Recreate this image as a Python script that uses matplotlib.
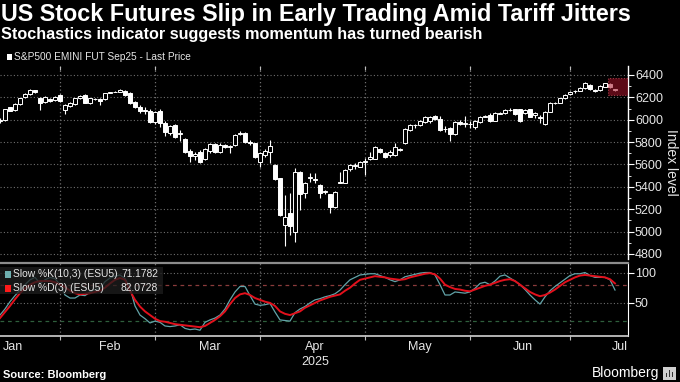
import matplotlib
matplotlib.use('Agg')
import matplotlib.pyplot as plt
from matplotlib.patches import Rectangle
from matplotlib.ticker import FixedLocator, MultipleLocator
import numpy as np
import pandas as pd

plt.rcParams['font.family'] = ['Liberation Sans', 'DejaVu Sans']

# ---------------- data ----------------
title = "US Stock Futures Slip in Early Trading Amid Tariff Jitters"
subtitle = "Stochastics indicator suggests momentum has turned bearish"
series_label = "S&P500 EMINI FUT Sep25 - Last Price"
k_label = "Slow %K(10,3) (ESU5)"
d_label = "Slow %D(3) (ESU5)"
k_last = "71.1782"
d_last = "82.0728"
month_labels = ["Jan", "Feb", "Mar", "Apr", "May", "Jun", "Jul"]
year_label = "2025"
price_ticks = [4800, 5000, 5200, 5400, 5600, 5800, 6000, 6200, 6400]
stoch_ticks = [50, 100]
holidays = ['2025-01-20', '2025-02-17', '2025-04-18', '2025-05-26', '2025-06-19', '2025-07-04']
start_date, end_date = '2025-01-14', '2025-07-14'

opens = [5990, 5998, 6111, 6087, 6141, 6200, 6227, 6262, 6192, 6161, 6186, 6177, 6221,
         6087, 6123, 6141, 6192, 6221, 6147, 6185, 6186, 6183, 6240, 6248, 6251, 6257, 6242, 6161,
         6117, 6087, 6081, 5983,
         6081, 5974, 5880, 5953, 5870, 5825, 5721, 5680, 5714, 5647, 5720, 5780, 5714, 5770,
         5755, 5774, 5875, 5884, 5804, 5790, 5625,
         5685, 5714, 5595, 5476, 5059, 5164, 5000, 5536, 5342, 5480, 5470, 5417, 5352, 5336,
         5217, 5446, 5438, 5557, 5585, 5580, 5625,
         5645, 5649, 5738, 5703, 5685, 5685, 5735, 5792, 5908, 5950, 5953, 5980, 5985, 6036,
         6007, 5915, 5926, 5870, 5983, 5965, 5962,
         5938, 5983, 6025, 6042, 5989, 6055, 6060, 6090, 6096, 6096, 6060, 6093, 6045, 6027,
         5962, 6072, 6145, 6150, 6194, 6230,
         6255, 6260, 6281, 6311, 6262, 6266, 6296, 6320, 6272]
highs = [6015, 6100, 6115, 6145, 6195, 6235, 6270, 6268, 6200, 6212, 6195, 6215, 6230,
         6140, 6160, 6195, 6218, 6228, 6198, 6192, 6192, 6240, 6250, 6258, 6270, 6262, 6248, 6170,
         6130, 6115, 6095, 6080,
         6095, 5990, 5955, 5960, 5905, 5835, 5740, 5714, 5725, 5745, 5790, 5790, 5795, 5785,
         5770, 5870, 5895, 5890, 5815, 5795, 5710,
         5735, 5819, 5600, 5480, 5327, 5345, 5568, 5545, 5440, 5527, 5524, 5425, 5370, 5340,
         5362, 5536, 5555, 5600, 5610, 5630, 5658,
         5714, 5765, 5745, 5710, 5725, 5790, 5745, 5925, 5960, 5960, 5995, 6030, 6035, 6040,
         6030, 5940, 5935, 5990, 5995, 6033, 5985,
         5995, 6030, 6040, 6060, 6065, 6070, 6092, 6105, 6100, 6100, 6100, 6100, 6070, 6040,
         6078, 6155, 6160, 6198, 6228, 6258,
         6266, 6288, 6335, 6318, 6270, 6308, 6332, 6325, 6275]
lows = [5975, 5990, 6075, 6080, 6135, 6195, 6220, 6240, 6087, 6150, 6160, 6170, 6160,
        6051, 6115, 6135, 6185, 6145, 6140, 6175, 6132, 6178, 6236, 6244, 6246, 6210, 6140, 6105,
        6060, 6050, 5975, 5960,
        5938, 5855, 5860, 5835, 5810, 5705, 5625, 5640, 5615, 5640, 5705, 5705, 5705, 5745,
        5705, 5765, 5865, 5795, 5770, 5660, 5580,
        5670, 5616, 5460, 5135, 4871, 4970, 4910, 5193, 5300, 5446, 5434, 5300, 5340, 5166,
        5210, 5430, 5430, 5540, 5560, 5575, 5506,
        5640, 5645, 5700, 5655, 5670, 5680, 5720, 5785, 5900, 5930, 5945, 5975, 5970, 6000,
        5900, 5890, 5810, 5865, 5955, 5935, 5930,
        5920, 5975, 6020, 5980, 5985, 6050, 6055, 6075, 6045, 5980, 6050, 6020, 6015, 5968,
        5955, 6065, 6140, 6145, 6188, 6225,
        6240, 6255, 6278, 6262, 6248, 6260, 6290, 6285, 6260]
closes = [6000, 6093, 6081, 6141, 6192, 6230, 6266, 6245, 6152, 6206, 6168, 6206, 6170,
          6132, 6152, 6192, 6212, 6152, 6192, 6181, 6170, 6236, 6244, 6252, 6266, 6221, 6147, 6111,
          6081, 6075, 5983, 6072,
          5969, 5888, 5940, 5846, 5880, 5714, 5676, 5690, 5625, 5736, 5783, 5714, 5774, 5760,
          5765, 5864, 5882, 5804, 5790, 5670, 5700,
          5724, 5761, 5468, 5148, 5133, 5050, 5536, 5336, 5432, 5490, 5464, 5342, 5360, 5217,
          5357, 5434, 5551, 5595, 5592, 5625, 5631,
          5665, 5756, 5712, 5667, 5712, 5760, 5730, 5917, 5953, 5955, 5989, 6027, 6027, 6007,
          5908, 5920, 5870, 5983, 5960, 5970, 5960,
          5989, 6027, 6030, 5989, 6057, 6060, 6087, 6087, 6055, 5988, 6087, 6027, 6060, 6013,
          6072, 6147, 6150, 6192, 6221, 6251,
          6260, 6281, 6326, 6272, 6260, 6302, 6326, 6296, 6266]

slow_k = [30, 40, 52, 62, 71, 80, 88, 92, 82, 88, 92, 90, 80,
          63, 58, 58, 63, 62, 68, 72, 74, 85, 91, 94, 96, 90, 75, 45, 30, 24, 17, 20,
          18, 12, 11, 12, 14, 8, 6, 7, 5, 18, 22, 25, 30, 40, 55, 68, 77, 77, 62, 48, 46,
          47, 49, 35, 22, 21, 20, 34, 40, 44, 50, 55, 57, 60, 62, 65, 71, 80, 88, 92, 96, 97,
          98, 98, 95, 92, 88, 85, 88, 93, 95, 97, 99, 100, 100, 96, 80, 63, 63, 68, 67, 66, 68,
          74, 82, 84, 80, 86, 94, 96, 91, 86, 80, 72, 63, 55, 48, 60, 70, 77, 83, 89, 95,
          98, 98, 100, 95, 92, 92, 92, 88, 71.1782]
slow_d = [25, 35, 45, 56, 66, 74, 80, 84, 86, 86, 86, 84, 80,
          76, 70, 66, 64, 65, 66, 68, 70, 75, 82, 88, 91, 88, 70, 55, 44, 36, 30, 24,
          20, 19, 17, 15, 14, 13, 12, 11, 10, 12, 17, 22, 28, 36, 48, 58, 64, 66, 63, 58, 55,
          52, 50, 45, 36, 32, 30, 33, 36, 42, 46, 50, 54, 57, 60, 62, 64, 70, 75, 82, 88, 90,
          92, 94, 93, 92, 90, 89, 88, 89, 92, 94, 96, 98, 99, 97, 90, 80, 76, 73, 72, 70, 69,
          72, 75, 78, 80, 83, 86, 88, 89, 86, 80, 74, 68, 64, 61, 63, 67, 72, 78, 84, 88,
          92, 95, 96, 95, 94, 93, 92, 89, 82.0728]

# ---------------- layout helpers ----------------
W, H = 680, 382
fig = plt.figure(figsize=(W / 100, H / 100), dpi=100, facecolor='black')


def fx(px):
    return px / W


def fy(py):
    return 1 - py / H


days = pd.bdate_range(start_date, end_date, freq='C', holidays=holidays)
n = len(days)
x = np.arange(n)
o = np.array(opens, float)
h = np.array(highs, float)
l = np.array(lows, float)
c = np.array(closes, float)

# month boundaries (last trading day of each month) and month label centres
months = days.to_period('M')
bounds = [i for i in range(n - 1) if months[i] != months[i + 1]]
full = pd.bdate_range('2025-01-01', '2025-07-31', freq='C',
                      holidays=holidays + ['2025-01-01', '2025-01-09'])
full_idx = {d: k for k, d in enumerate(full)}
off = full_idx[days[0]]
xmax = 125.6
label_pos = []
for m in range(1, 8):
    ks = [full_idx[d] - off for d in full if d.month == m]
    label_pos.append(min((ks[0] + ks[-1]) / 2, xmax - 1.6))

grid_col = '#6e6e6e'
txt_col = '#e6e6e6'
dot = (0, (1, 2))

# ---------------- main candle panel ----------------
ax = fig.add_axes([0, fy(259), fx(628), (259 - 66) / H])
ax.set_facecolor('black')
ax.set_xlim(0, xmax)
ax.set_ylim(4755, 6480)
for p in price_ticks:
    ax.axhline(p, color=grid_col, lw=0.8, ls=dot, zorder=0)
for b in bounds:
    ax.axvline(b, color=grid_col, lw=0.9, ls=dot, zorder=0)

ax.vlines(x, l, h, color='white', lw=0.8, zorder=2)
down = c < o
body_lo = np.minimum(o, c)
body_h = np.maximum(np.abs(c - o), 3)
face = ['white' if d else 'black' for d in down]
ax.bar(x, body_h, bottom=body_lo, width=0.72, color=face, edgecolor='white',
       linewidth=0.7, zorder=3)

# highlight box on latest sessions
ax.add_patch(Rectangle((121.6, 6221), 4.4, 152, facecolor='#a8132a', alpha=0.55,
                       edgecolor='#ff6070', lw=0.8, ls=(0, (1, 1.5)), zorder=5))

for s in ['left', 'top', 'bottom']:
    ax.spines[s].set_visible(False)
ax.spines['right'].set_color('white')
ax.spines['right'].set_linewidth(1.0)
ax.yaxis.tick_right()
ax.yaxis.set_major_locator(FixedLocator(price_ticks))
ax.yaxis.set_minor_locator(MultipleLocator(100))
ax.tick_params(axis='y', which='major', colors='white', labelcolor=txt_col,
               labelsize=9, length=4, width=0.8, pad=1)
ax.tick_params(axis='y', which='minor', colors='white', length=2, width=0.6)
ax.set_xticks(bounds)
ax.tick_params(axis='x', bottom=False, top=True, labelbottom=False, direction='in',
               colors='#bbbbbb', length=3, width=0.8)
ax.set_ylabel('Index level', color=txt_col, fontsize=10, rotation=270, labelpad=11)
ax.yaxis.set_label_position('right')

# ---------------- stochastic panel ----------------
ax2 = fig.add_axes([0, fy(336), fx(628), (336 - 262.5) / H])
ax2.set_facecolor('black')
ax2.set_xlim(0, xmax)
ax2.set_ylim(-4.5, 116.5)
for v in stoch_ticks:
    ax2.axhline(v, color=grid_col, lw=0.8, ls=dot, zorder=0)
ax2.axhline(80, color='#8a3b3b', lw=0.9, ls=(0, (3, 3)), zorder=0)
ax2.axhline(20, color='#2f5f3c', lw=0.9, ls=(0, (3, 3)), zorder=0)
for b in bounds:
    ax2.axvline(b, color=grid_col, lw=0.9, ls=dot, zorder=0)
ax2.plot(x, slow_k, color='#62a3a8', lw=0.9, zorder=3)
ax2.plot(x, slow_d, color='#e3101c', lw=1.4, zorder=4)

ax2.spines['left'].set_visible(False)
ax2.spines['top'].set_color('#8c8c8c')
ax2.spines['top'].set_linewidth(1.6)
ax2.spines['bottom'].set_color('#d0d0d0')
ax2.spines['bottom'].set_linewidth(1.2)
ax2.spines['right'].set_color('white')
ax2.yaxis.tick_right()
ax2.set_yticks(stoch_ticks)
ax2.tick_params(axis='y', colors='white', labelcolor=txt_col, labelsize=9,
                length=4, width=0.8, pad=1)
ax2.set_xticks(bounds)
ax2.set_xticklabels([])
ax2.tick_params(axis='x', colors='#bbbbbb', length=3, width=0.8)

# legend box of the stochastic panel
ax2.add_patch(Rectangle((0, 0.565), 163 / 628, 0.37, transform=ax2.transAxes,
                        facecolor='#1e1e1e', alpha=0.75, edgecolor='none', zorder=6))
for row, (col, lab, val) in enumerate([('#6fb0b0', k_label, k_last),
                                      ('#ff1a1a', d_label, d_last)]):
    yy = 0.84 - row * 0.19
    ax2.add_patch(Rectangle((5 / 628, yy - 0.05), 6 / 628, 0.1, transform=ax2.transAxes,
                            facecolor=col, edgecolor='none', zorder=7))
    ax2.text(13 / 628, yy, lab, transform=ax2.transAxes, color=txt_col, fontsize=7.4,
             va='center', ha='left', zorder=8)
    ax2.text(158 / 628, yy, val, transform=ax2.transAxes, color=txt_col, fontsize=7.4,
             va='center', ha='right', zorder=8)

# month labels
for pos, lab in zip(label_pos, month_labels):
    ax2.text(pos, -0.15, lab, transform=ax2.get_xaxis_transform(), color=txt_col,
             fontsize=9, ha='center', va='center')
ax2.text(label_pos[3], -0.36, year_label, transform=ax2.get_xaxis_transform(),
         color=txt_col, fontsize=9, ha='center', va='center')

# ---------------- titles & footer ----------------
fig.text(fx(1), fy(14), title, color='white', fontsize=16.8, fontweight='bold',
         ha='left', va='center')
fig.text(fx(1), fy(34), subtitle, color='white', fontsize=11.7, fontweight='bold',
         ha='left', va='center')
fig.patches.append(Rectangle((fx(6.5), fy(60)), 5.5 / W, 5.5 / H, transform=fig.transFigure,
                             facecolor='white', edgecolor='none'))
fig.text(fx(14), fy(57), series_label, color=txt_col, fontsize=7.3, ha='left', va='center')
fig.text(fx(3), fy(375), "Source: Bloomberg", color='white', fontsize=8, fontweight='bold',
         ha='left', va='center')
fig.text(fx(659), fy(373), "Bloomberg", color='white', fontsize=10, ha='right',
         va='center')
fig.patches.append(Rectangle((fx(663), fy(380)), 13 / W, 13 / H, transform=fig.transFigure,
                             facecolor='#cfcfcf', edgecolor='none'))
for k, hh in enumerate([4, 7, 5]):
    fig.patches.append(Rectangle((fx(665.5 + k * 3), fy(377)), 1.6 / W, hh / H,
                                 transform=fig.transFigure, facecolor='#333333',
                                 edgecolor='none'))

fig.savefig('out.png', dpi=100, facecolor='black')
